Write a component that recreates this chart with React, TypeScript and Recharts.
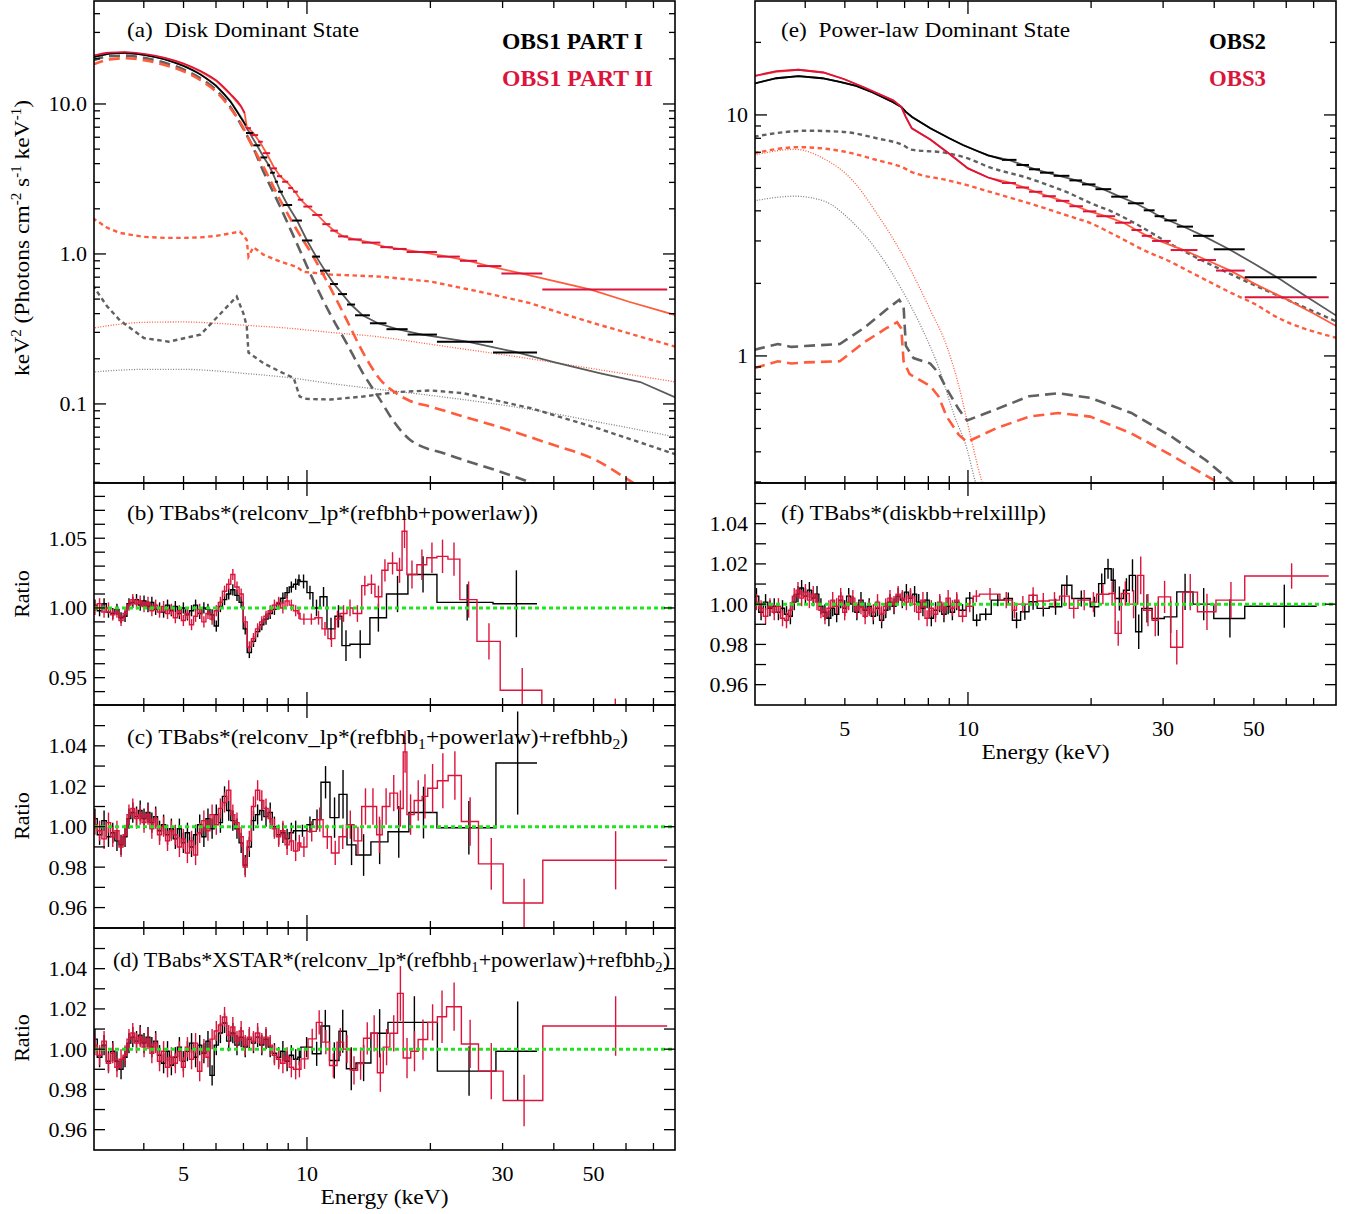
import React from 'react';
import { ComposedChart, Line, Scatter, ErrorBar, XAxis, YAxis, ReferenceLine } from 'recharts';

// ---------------- axis ticks ----------------
const X_TICKS = [4, 5, 6, 7, 8, 9, 10, 20, 30, 40, 50, 60, 70];
const X_LABELS = [5, 10, 30, 50];
const A_Y_TICKS = [0.03, 0.04, 0.05, 0.06, 0.07, 0.08, 0.09, 0.1, 0.2, 0.3, 0.4, 0.5, 0.6, 0.7, 0.8, 0.9, 1, 2, 3, 4, 5, 6, 7, 8, 9, 10, 20, 30, 40];
const A_Y_LABELS = [0.1, 1, 10];
const E_Y_TICKS = [0.3, 0.4, 0.5, 0.6, 0.7, 0.8, 0.9, 1, 2, 3, 4, 5, 6, 7, 8, 9, 10, 20];
const E_Y_LABELS = [1, 10];
const B_Y_TICKS = [0.94, 0.95, 0.96, 0.97, 0.98, 0.99, 1.0, 1.01, 1.02, 1.03, 1.04, 1.05, 1.06, 1.07, 1.08];
const B_Y_LABELS = [0.95, 1.0, 1.05];
const R_Y_TICKS = [0.96, 0.97, 0.98, 0.99, 1.0, 1.01, 1.02, 1.03, 1.04, 1.05];
const R_Y_LABELS = [0.96, 0.98, 1.0, 1.02, 1.04];

// ---------------- panel (a): model components [E keV, keV^2 flux] ----------------
const A_MODEL_I = [[3.0,20.5],[3.3,21.7],[3.6,22.0],[4.0,21.3],[4.5,19.9],[5.0,18.0],[5.5,15.8],[6.0,13.3],[6.5,10.5],[7.0,7.7],[7.1,7.0],[7.25,6.4],[7.55,5.3],[7.85,4.4],[8.07,3.9],[8.24,3.48],[8.42,3.03],[8.62,2.6],[8.97,2.12],[9.46,1.67],[10.0,1.23],[10.53,0.96],[11.07,0.774],[11.64,0.63],[12.2,0.54],[12.8,0.46],[13.66,0.39],[14.9,0.345],[16.6,0.315],[19.1,0.29],[24.6,0.26],[32.2,0.222],[40,0.19],[52,0.16],[65,0.14],[79.5,0.11]];
const A_MODEL_II = [[3.0,20.8],[3.3,21.8],[3.6,22.0],[4.0,21.4],[4.5,20.2],[5.0,18.5],[5.5,16.5],[6.0,14.3],[6.5,11.6],[6.9,9.6],[7.05,8.6],[7.13,7.05],[7.4,6.4],[7.7,5.5],[8.0,4.6],[8.3,3.8],[8.6,3.3],[9.0,2.95],[9.4,2.55],[9.65,2.3],[10.05,2.07],[10.6,1.82],[11.15,1.58],[11.65,1.43],[12.25,1.31],[13.1,1.25],[14.3,1.19],[15.6,1.11],[16.8,1.08],[19.0,1.03],[22.0,0.96],[24.8,0.9],[27.8,0.83],[33.5,0.74],[49,0.58],[61,0.48],[79.5,0.39]];
const A_DISK_I = [[3.0,19.5],[3.3,20.8],[3.6,21.0],[4.0,20.3],[4.5,18.8],[5.0,17.0],[5.5,14.8],[6.0,12.4],[6.5,9.6],[7.0,6.8],[7.3,5.5],[7.83,3.55],[8.6,2.07],[9.44,1.18],[10.36,0.67],[11.38,0.40],[12.5,0.253],[13.7,0.16],[15.1,0.106],[16.2,0.078],[17.8,0.058],[22,0.046],[29,0.036],[35,0.030],[40,0.026]];
const A_DISK_II = [[3.0,18.3],[3.3,19.8],[3.6,20.2],[4.0,19.6],[4.5,18.2],[5.0,16.5],[5.5,14.4],[6.0,12.1],[6.5,9.4],[7.0,6.9],[7.13,6.2],[7.83,3.82],[8.6,2.29],[9.44,1.45],[10.36,0.96],[11.38,0.6],[12.5,0.363],[13.7,0.22],[15.1,0.145],[16.5,0.118],[17.8,0.105],[20,0.096],[25,0.08],[29,0.071],[38.5,0.055],[50.8,0.042],[61,0.031],[66,0.027]];
const A_REFL_I = [[3.0,0.62],[3.25,0.45],[3.5,0.36],[4.0,0.275],[4.6,0.26],[5.5,0.29],[6.1,0.39],[6.74,0.52],[7.0,0.4],[7.13,0.33],[7.2,0.22],[7.83,0.187],[8.6,0.164],[9.28,0.149],[9.6,0.112],[9.98,0.108],[11.38,0.107],[13.7,0.112],[16.5,0.12],[20,0.123],[24,0.118],[35,0.094],[51,0.069],[79.5,0.046]];
const A_REFL_II = [[3.0,1.74],[3.25,1.5],[3.5,1.38],[4.0,1.3],[4.5,1.28],[5.0,1.28],[5.5,1.29],[6.0,1.32],[6.5,1.37],[6.86,1.41],[7.0,1.33],[7.13,1.24],[7.2,0.96],[7.4,1.11],[7.83,0.99],[8.6,0.89],[9.44,0.82],[9.8,0.76],[11.38,0.73],[15.1,0.706],[20,0.655],[26.4,0.56],[35,0.47],[42,0.40],[51,0.34],[79.5,0.24]];
const A_PL_I = [[3.0,0.163],[3.5,0.168],[4.0,0.17],[5.0,0.17],[6.0,0.166],[7.0,0.16],[9.0,0.15],[11.4,0.137],[15,0.125],[20,0.114],[35,0.092],[51,0.076],[79.5,0.06]];
const A_PL_II = [[3.0,0.32],[3.5,0.34],[4.0,0.35],[5.0,0.352],[6.0,0.345],[7.0,0.335],[9.0,0.32],[11.4,0.30],[15,0.28],[20,0.25],[35,0.2],[51,0.17],[79.5,0.14]];
// panel (a) data: dense low-energy part and binned crosses
const A_DATA_I_DENSE = [[3.0,20.4],[3.3,21.6],[3.6,21.9],[4.0,21.2],[4.5,19.8],[5.0,17.9],[5.5,15.7],[6.0,13.2],[6.5,10.4],[7.0,7.6],[7.1,7.2]];
const A_DATA_I_EDGES = [7.1, 7.4, 7.7, 8.0, 8.13, 8.35, 8.5, 8.74, 9.2, 9.72, 10.3, 10.76, 11.38, 11.9, 12.52, 13.1, 14.24, 15.63, 17.6, 20.75, 28.43, 36.4];
const A_DATA_I_VALS = [6.4, 5.3, 4.4, 3.9, 3.48, 3.03, 2.6, 2.12, 1.67, 1.23, 0.96, 0.774, 0.63, 0.54, 0.46, 0.39, 0.345, 0.315, 0.29, 0.26, 0.22];
const A_DATA_II_DENSE = [[3.0,21.0],[3.3,22.0],[3.6,22.2],[4.0,21.6],[4.5,20.3],[5.0,18.6],[5.5,16.6],[6.0,14.4],[6.5,11.7],[6.9,9.7],[7.05,8.7]];
const A_DATA_II_EDGES = [7.1, 7.3, 7.6, 7.8, 8.13, 8.45, 8.7, 9.0, 9.25, 9.5, 9.8, 10.3, 10.9, 11.4, 11.9, 12.6, 13.6, 15.1, 16.2, 17.5, 20.75, 23.6, 26.0, 29.8, 37.5, 75.6];
const A_DATA_II_VALS = [6.9, 6.2, 5.6, 4.7, 3.72, 3.3, 3.03, 2.75, 2.6, 2.3, 2.07, 1.82, 1.58, 1.43, 1.31, 1.25, 1.19, 1.11, 1.08, 1.03, 0.96, 0.9, 0.83, 0.74, 0.58];

// ---------------- panel (e) ----------------
const E_MODEL_2 = [[3.0,13.5],[3.4,14.2],[3.85,14.5],[4.4,14.2],[4.86,13.7],[5.33,13.2],[5.85,12.4],[6.56,11.3],[6.87,10.8],[7.05,10.3],[7.3,9.8],[8.09,8.8],[9.0,8.0],[9.72,7.5],[10.5,7.1],[11.2,6.8],[12.6,6.5],[13.6,6.2],[14.6,5.95],[15.6,5.76],[17.0,5.55],[18.4,5.35],[19.7,5.15],[21.4,4.92],[23.5,4.58],[25.7,4.3],[27.7,4.02],[29.4,3.8],[31.3,3.62],[33.9,3.42],[37.6,3.15],[43.5,2.77],[50,2.42],[58,2.08],[66,1.8],[79.5,1.47]];
const E_MODEL_3 = [[3.0,14.5],[3.4,15.1],[3.85,15.4],[4.43,15.0],[4.97,14.1],[5.58,13.0],[6.56,11.5],[6.87,10.8],[7.05,9.8],[7.29,8.8],[8.09,7.9],[9.0,6.9],[10.0,6.0],[11.2,5.5],[12.6,5.25],[13.6,5.03],[14.6,4.8],[15.7,4.6],[17.0,4.4],[18.4,4.18],[19.8,3.98],[21.7,3.8],[24.0,3.57],[25.8,3.33],[27.4,3.15],[29.7,2.98],[33.7,2.75],[38.3,2.5],[43.8,2.26],[50,2.0],[60,1.72],[70,1.5],[79.5,1.33]];
const E_PL_2 = [[3.0,8.13],[4.04,8.6],[4.97,8.5],[5.98,8.0],[7.03,7.4],[7.2,7.2],[8.87,6.95],[10,6.6],[11.2,6.1],[14.1,5.45],[17.7,4.73],[20,4.3],[22.4,3.98],[28.2,3.23],[30,3.03],[35.5,2.6],[44.8,2.15],[50,1.97],[56.4,1.8],[79.5,1.39]];
const E_PL_3 = [[3.0,6.93],[3.85,7.35],[4.97,7.05],[5.98,6.5],[7.0,6.0],[7.2,5.85],[8.87,5.37],[10,5.1],[11.2,4.82],[14.1,4.3],[17.7,3.8],[20,3.55],[22.4,3.23],[28.2,2.65],[30,2.54],[35.5,2.2],[44.8,1.8],[50,1.65],[56.4,1.46],[79.5,1.19]];
const E_DISK_2 = [[3.0,4.4],[3.77,4.6],[4.43,4.4],[5.21,3.6],[5.98,2.75],[6.87,1.9],[7.72,1.3],[8.47,0.9],[9.28,0.56],[9.95,0.41],[10.4,0.305],[10.8,0.25]];
const E_DISK_3 = [[3.0,6.8],[3.77,7.2],[4.43,6.6],[5.21,5.37],[5.98,3.91],[7.03,2.5],[8.09,1.55],[8.87,1.1],[9.5,0.75],[10.19,0.45],[10.79,0.305],[11.2,0.25]];
const E_REFL_2 = [[3.0,1.06],[3.43,1.12],[3.7,1.09],[4.0,1.1],[4.86,1.12],[5.58,1.31],[6.3,1.55],[6.79,1.71],[6.96,1.6],[7.05,1.1],[7.36,0.98],[8.09,0.93],[8.47,0.85],[8.87,0.73],[9.5,0.6],[9.95,0.54],[11.7,0.6],[14.1,0.68],[16.6,0.7],[19.9,0.67],[25.1,0.58],[31.6,0.46],[38.1,0.37],[43.7,0.305],[47,0.27]];
const E_REFL_3 = [[3.0,0.89],[3.43,0.95],[3.7,0.93],[4.0,0.94],[4.86,0.95],[5.58,1.14],[6.3,1.3],[6.71,1.38],[6.87,1.3],[6.96,0.95],[7.2,0.84],[8.09,0.75],[8.47,0.68],[8.87,0.56],[9.5,0.47],[9.95,0.44],[11.7,0.5],[14.1,0.56],[16.6,0.58],[19.9,0.56],[25.1,0.477],[31.6,0.385],[39.9,0.305],[43,0.28]];
const E_DATA_2_DENSE = [[3.0,13.5],[3.4,14.2],[3.85,14.5],[4.4,14.2],[4.86,13.7],[5.33,13.2],[5.85,12.4],[6.56,11.3],[6.87,10.8],[7.05,10.3],[7.3,9.8],[8.09,8.8],[9.0,8.0],[9.72,7.5],[10.5,7.1],[11.2,6.8],[12.1,6.55]];
const E_DATA_2_EDGES = [12.1, 13.14, 14.1, 15.0, 16.2, 17.7, 19.0, 20.5, 22.4, 24.6, 26.9, 28.6, 30.2, 32.4, 35.5, 39.9, 47.5, 71.2];
const E_DATA_2_VALS = [6.51, 6.2, 5.95, 5.76, 5.59, 5.35, 5.15, 4.92, 4.58, 4.3, 4.02, 3.8, 3.65, 3.44, 3.15, 2.77, 2.12];
const E_DATA_3_DENSE = [[3.0,14.5],[3.4,15.2],[3.85,15.4],[4.43,15.0],[4.97,14.1],[5.58,13.0],[6.56,11.5],[6.87,10.8],[7.05,9.8],[7.29,8.8],[8.09,7.9],[9.0,6.9],[10.0,6.0],[11.2,5.5],[12.1,5.28]];
const E_DATA_3_EDGES = [12.1, 13.1, 14.1, 15.2, 16.4, 17.7, 19.1, 20.6, 22.9, 25.1, 26.6, 28.2, 31.3, 36.4, 40.4, 47.5, 76.2];
const E_DATA_3_VALS = [5.22, 5.0, 4.8, 4.6, 4.4, 4.18, 3.98, 3.8, 3.57, 3.33, 3.15, 3.0, 2.75, 2.5, 2.26, 1.75];

// ---------------- residual ratio panels ----------------
const LOW_EDGES = [3.00,3.08,3.16,3.24,3.32,3.40,3.48,3.56,3.64,3.72,3.80,3.88,3.96,4.05,4.14,4.23,4.32,4.42,4.52,4.62,4.72,4.83,4.94,5.05,5.17,5.29,5.41,5.54,5.67,5.80,5.94,6.08,6.22,6.37,6.52,6.67,6.83,6.99,7.15,7.32,7.49,7.67,7.85,8.04,8.23,8.43,8.63,8.84,9.05,9.27,9.50];

const B_BLACK_LOW = [1.002,0.998,1.003,0.997,0.996,0.999,0.993,0.994,1.003,1.004,1.006,1.002,1.005,1.001,1.004,0.999,1.000,0.997,1.002,0.998,1.001,0.996,1.000,0.995,0.998,1.002,0.996,1.000,0.999,0.995,0.987,1.001,1.006,1.010,1.013,1.009,1.004,0.985,0.968,0.976,0.983,0.988,0.992,0.996,0.999,1.003,1.007,1.011,1.015,1.017];
const B_BLACK_HI_EDGES = [9.5, 9.62, 10.0, 10.34, 10.76, 11.19, 11.7, 12.17, 12.73, 14.24, 15.63, 17.63, 20.75, 28.43, 36.4];
const B_BLACK_HI = [1.02, 1.019, 1.011, 1.0, 1.008, 0.985, 0.994, 0.973, 0.974, 0.993, 1.01, 1.024, 1.004, 1.003];
const B_BLACK_HI_ERR = [0.004, 0.005, 0.005, 0.006, 0.007, 0.008, 0.008, 0.011, 0.010, 0.010, 0.013, 0.013, 0.013, 0.024];
const B_RED_LOW = [0.999,1.003,0.997,1.000,0.995,0.997,0.991,0.996,1.002,1.006,1.003,1.005,1.001,1.004,0.998,1.002,0.997,1.001,0.996,0.999,0.993,0.998,0.991,0.996,0.988,0.994,0.999,0.990,0.996,0.992,0.998,1.004,1.012,1.017,1.024,1.015,1.010,0.990,0.972,0.978,0.985,0.990,0.994,0.998,1.002,1.004,1.000,1.005,1.002,0.998];
const B_RED_HI_EDGES = [9.5, 9.62, 10.04, 10.46, 10.88, 11.25, 11.7, 12.04, 12.52, 12.95, 13.6, 14.08, 14.65, 15.23, 15.76, 16.58, 17.06, 17.53, 18.54, 19.6, 20.75, 22.07, 23.6, 25.98, 29.6, 37.4, 75.6];
const B_RED_HI = [0.996, 0.992, 0.992, 0.993, 0.985, 0.978, 0.992, 0.996, 1.0, 0.996, 1.016, 1.017, 1.008, 1.027, 1.032, 1.027, 1.055, 1.024, 1.031, 1.036, 1.037, 1.035, 1.006, 0.976, 0.941, 0.91];
const B_RED_HI_ERR = [0.004, 0.004, 0.004, 0.005, 0.005, 0.006, 0.006, 0.006, 0.006, 0.006, 0.007, 0.007, 0.008, 0.008, 0.008, 0.009, 0.012, 0.01, 0.011, 0.011, 0.012, 0.012, 0.013, 0.013, 0.016, 0.025];

const C_BLACK_LOW = [1.004,0.996,1.003,0.995,0.997,0.993,0.991,0.995,1.004,1.007,1.005,1.008,1.004,1.007,1.002,1.005,0.998,1.001,0.996,0.999,0.994,0.999,0.992,0.997,0.990,0.996,1.001,0.995,1.004,0.999,1.006,1.002,1.015,1.008,1.003,0.999,0.992,0.981,0.990,1.003,1.006,1.008,1.005,1.007,1.000,0.996,0.997,0.994,0.997,0.998];
const C_BLACK_HI_EDGES = [9.5, 10.0, 10.34, 10.82, 11.38, 11.97, 12.52, 13.17, 14.32, 15.76, 17.73, 20.75, 28.9, 36.4];
const C_BLACK_HI = [0.998, 1.001, 1.0035, 1.022, 1.0045, 1.016, 0.991, 0.986, 0.9925, 0.9975, 1.007, 0.9995, 1.0315];
const C_BLACK_HI_ERR = [0.003, 0.004, 0.005, 0.008, 0.01, 0.012, 0.01, 0.0103, 0.011, 0.0128, 0.0128, 0.0132, 0.0255];
const C_RED_LOW = [1.001,0.998,0.994,1.002,0.995,0.998,0.990,0.996,1.006,1.009,1.004,1.006,1.002,1.006,0.999,1.004,0.996,1.000,0.993,0.998,0.996,0.990,0.994,0.987,0.993,0.986,0.997,1.003,0.998,1.006,1.001,1.009,1.012,1.018,1.006,1.002,0.995,0.980,0.993,1.010,1.018,1.013,1.009,1.004,0.999,0.995,0.998,0.991,0.993,0.988];
const C_RED_HI_EDGES = [9.5, 9.66, 10.0, 10.54, 10.95, 11.47, 11.97, 12.48, 13.03, 13.6, 14.18, 14.79, 15.26, 15.93, 16.63, 17.17, 17.53, 18.26, 19.1, 19.7, 20.8, 22.1, 23.8, 26.2, 30.1, 37.6, 75.6];
const C_RED_HI = [0.992, 0.99, 0.9977, 1.0035, 0.995, 0.987, 0.995, 1.001, 0.993, 1.010, 1.010, 0.996, 1.010, 1.0166, 1.009, 1.037, 1.006, 1.013, 1.015, 1.019, 1.0227, 1.0253, 1.0026, 0.9816, 0.9623, 0.9834];
const C_RED_HI_ERR = [0.004, 0.005, 0.005, 0.006, 0.006, 0.006, 0.006, 0.007, 0.007, 0.009, 0.009, 0.009, 0.009, 0.009, 0.009, 0.0103, 0.01, 0.01, 0.011, 0.012, 0.0136, 0.012, 0.012, 0.0128, 0.012, 0.0144];

const D_BLACK_LOW = [1.005,0.996,1.002,0.994,0.999,0.994,0.990,0.996,1.003,1.006,1.004,1.007,1.003,1.006,1.001,1.004,0.997,0.993,0.999,0.992,0.996,1.001,0.994,0.999,1.003,0.996,1.002,0.998,1.004,0.987,1.002,1.008,1.013,1.004,1.008,1.002,1.006,1.001,1.005,1.003,1.006,1.002,1.005,1.001,0.998,0.996,0.999,0.994,0.997,0.995];
const D_BLACK_HI_EDGES = [9.5, 9.66, 10.3, 10.82, 11.35, 11.97, 12.48, 13.17, 14.32, 15.76, 20.8, 28.9, 36.4];
const D_BLACK_HI = [0.996, 1.001, 0.9977, 1.0115, 0.9944, 1.0089, 0.9903, 0.9931, 1.0079, 1.0133, 0.9891, 0.999];
const D_BLACK_HI_ERR = [0.004, 0.005, 0.006, 0.008, 0.009, 0.0107, 0.0107, 0.009, 0.012, 0.013, 0.0123, 0.0247];
const D_RED_LOW = [1.002,0.997,1.004,0.993,0.998,0.991,0.995,0.997,1.005,1.008,1.003,1.006,1.001,1.005,0.998,1.003,0.994,0.999,0.991,0.996,0.993,0.999,0.991,1.001,0.995,1.003,0.989,1.000,0.996,1.005,1.009,1.012,1.016,1.007,1.011,1.004,1.009,1.002,1.006,1.004,1.008,1.003,1.006,1.002,0.997,0.995,0.993,0.996,0.991,0.990];
const D_RED_HI_EDGES = [9.5, 9.67, 10.06, 10.54, 10.88, 11.35, 11.84, 12.28, 12.76, 13.29, 13.74, 14.32, 14.85, 15.35, 15.93, 16.63, 17.17, 17.91, 18.67, 19.7, 20.8, 21.9, 23.8, 26.2, 30.1, 37.6, 75.6];
const D_RED_HI = [0.99, 0.9952, 1.0051, 1.0133, 1.0035, 0.9919, 1.0035, 1.0, 0.9895, 0.9928, 1.0054, 1.0079, 0.9883, 1.001, 1.0079, 1.0277, 0.9956, 0.999, 1.0048, 1.0133, 1.0161, 1.0211, 1.0026, 0.9891, 0.9745, 1.0115];
const D_RED_HI_ERR = [0.004, 0.005, 0.005, 0.006, 0.006, 0.006, 0.007, 0.007, 0.007, 0.008, 0.008, 0.009, 0.0095, 0.009, 0.009, 0.0136, 0.01, 0.01, 0.01, 0.009, 0.013, 0.012, 0.012, 0.014, 0.0128, 0.0148];

const F_BLACK_LOW = [1.004,0.996,1.001,0.998,0.999,0.996,0.998,0.995,0.994,1.001,1.005,1.008,1.004,1.007,1.003,1.005,0.999,0.996,0.993,0.998,0.995,1.002,0.998,1.004,1.000,0.996,1.002,0.997,0.999,0.994,0.998,0.992,0.997,1.001,0.999,1.004,1.002,1.006,1.003,1.005,1.001,0.998,1.002,0.993,0.997,1.000,0.995,0.999,0.996,1.001];
const F_BLACK_HI_EDGES = [9.5, 9.9, 10.3, 10.7, 11.4, 12.26, 12.84, 13.45, 14.1, 14.76, 15.8, 16.95, 17.95, 19.9, 20.87, 21.6, 22.4, 22.9, 24.0, 24.8, 25.7, 26.6, 28.2, 30.2, 32.4, 35.5, 39.9, 47.5, 71.2];
const F_BLACK_HI = [0.997, 1.003, 0.992, 0.995, 1.002, 1.0028, 0.992, 0.9962, 1.0012, 0.9979, 0.9987, 1.0094, 1.0028, 0.9987, 1.0102, 1.0176, 1.0119, 1.0028, 1.0069, 1.0143, 0.9863, 0.9979, 0.9929, 0.9937, 1.0061, 1.0, 0.9929, 0.999];
const F_BLACK_HI_ERR = [0.003, 0.003, 0.003, 0.003, 0.003, 0.003, 0.004, 0.004, 0.004, 0.004, 0.004, 0.005, 0.004, 0.005, 0.005, 0.005, 0.006, 0.006, 0.006, 0.008, 0.0086, 0.007, 0.0086, 0.008, 0.009, 0.008, 0.0095, 0.0107];
const F_RED_LOW = [1.001,0.998,0.994,0.999,0.996,0.999,0.993,0.992,0.997,1.004,1.007,1.003,1.006,1.002,1.005,1.001,0.997,0.994,0.998,1.002,0.999,1.004,0.996,1.001,1.003,0.997,0.999,0.994,0.998,0.996,1.001,0.995,0.999,1.003,1.000,1.005,1.003,1.001,1.004,1.000,0.996,1.002,0.993,0.998,0.995,1.001,0.997,1.003,0.998,1.002];
const F_RED_HI_EDGES = [9.5, 9.9, 10.3, 10.67, 11.97, 12.84, 13.14, 14.1, 14.76, 15.8, 16.75, 17.7, 18.58, 19.9, 20.63, 22.12, 22.9, 23.7, 24.8, 26.0, 26.9, 28.2, 29.2, 31.3, 33.5, 36.4, 40.4, 47.5, 76.2];
const F_RED_HI = [0.994, 0.999, 1.004, 1.005, 1.002, 0.997, 1.0, 1.0044, 1.0016, 1.002, 1.004, 0.9979, 1.002, 1.001, 1.0049, 1.0053, 0.9855, 1.0053, 1.0, 1.0143, 0.997, 0.992, 1.0036, 0.9786, 1.006, 0.9962, 1.002, 1.014];
const F_RED_HI_ERR = [0.003, 0.003, 0.003, 0.003, 0.004, 0.004, 0.004, 0.004, 0.004, 0.004, 0.005, 0.005, 0.005, 0.005, 0.005, 0.006, 0.0062, 0.006, 0.007, 0.0094, 0.008, 0.008, 0.008, 0.0086, 0.009, 0.009, 0.009, 0.0063];
const LOW_ERR_B = 0.004;
const LOW_ERR_CD = 0.005;
const LOW_ERR_F = 0.004;

// ---------------- styling ----------------
const SERIF = '"Liberation Serif", "Times New Roman", Times, serif';
const BLACK = '#000000';
const CRIMSON = '#dc143c';
const TOMATO = '#ff5b3d';
const GRAY = '#606060';
const DGRAY = '#5a5a5a';
const LGRAY = '#808080';
const GREEN = '#22e322';

const LP = 100, TP = 6, RP = 6, BP = 64;
const FRAMES = {
  a: { left: 94, top: 1, w: 581, h: 482 },
  b: { left: 94, top: 483, w: 581, h: 222 },
  c: { left: 94, top: 705, w: 581, h: 223 },
  d: { left: 94, top: 928, w: 581, h: 222 },
  e: { left: 755, top: 1, w: 581, h: 482 },
  f: { left: 755, top: 483, w: 581, h: 222 },
};
const XDOM_L = [3.024, 79.0];
const XDOM_R = [3.015, 79.4];
const YDOM_A = [0.0297, 48.6];
const YDOM_E = [0.297, 29.7];
const YDOM_B = [0.9304, 1.0896];
const YDOM_R = [0.9499, 1.0602];

// ---------------- helpers ----------------
const toPts = (arr: number[][]) => arr.map((p) => ({ x: p[0], y: p[1] }));
function crosses(edges: number[], vals: number[]) {
  return vals.map((v, i) => {
    const c = (edges[i] + edges[i + 1]) / 2;
    return { x: c, y: v, xerr: [c - edges[i], edges[i + 1] - c] };
  });
}
// step histogram + error bars; error bars are trimmed to the visible ratio window
function residual(lowVals: number[], lowErr: number, hiEdges: number[], hiVals: number[], hiErrs: number[], dom: number[]) {
  const edges = LOW_EDGES.slice(0, -1).concat(hiEdges);
  const vals = lowVals.concat(hiVals);
  const errs = lowVals.map(() => lowErr).concat(hiErrs);
  const step = edges.map((e, i) => ({ x: e, y: vals[Math.min(i, vals.length - 1)] }));
  const pts = vals.map((v, i) => {
    const lo = Math.min(errs[i], v - dom[0]);
    const hi = Math.min(errs[i], dom[1] - v);
    return { x: (edges[i] + edges[i + 1]) / 2, y: v, err: [lo, hi] };
  });
  return { step, pts };
}
const Empty = () => <g />;

function curve(key: string, arr: number[][], color: string, width: number, dash?: string, type: any = 'monotone') {
  return (
    <Line key={key} data={toPts(arr)} dataKey="y" type={type} stroke={color} strokeWidth={width}
      strokeDasharray={dash} dot={false} activeDot={false} isAnimationActive={false} />
  );
}
function crossElems(key: string, edges: number[], vals: number[], color: string) {
  return (
    <Scatter key={key} data={crosses(edges, vals)} dataKey="y" shape={Empty} isAnimationActive={false}>
      <ErrorBar dataKey="xerr" direction="x" width={0} stroke={color} strokeWidth={2} isAnimationActive={false} />
    </Scatter>
  );
}
function residualElems(key: string, r: any, color: string) {
  return [
    <Line key={key + 's'} data={r.step} dataKey="y" type="stepAfter" stroke={color} strokeWidth={1.4}
      dot={false} activeDot={false} isAnimationActive={false} />,
    <Scatter key={key + 'e'} data={r.pts} dataKey="y" shape={Empty} isAnimationActive={false}>
      <ErrorBar dataKey="err" direction="y" width={0} stroke={color} strokeWidth={1.4} isAnimationActive={false} />
    </Scatter>,
  ];
}

type PanelProps = {
  frame: { left: number; top: number; w: number; h: number };
  xDomain: number[];
  yDomain: number[];
  yLog: boolean;
  yTicks: number[];
  yLabels: number[];
  yFmt: (v: number) => string;
  xLabels: boolean;
  children?: any;
};

function Panel(p: PanelProps) {
  const { frame } = p;
  const W = LP + frame.w + RP;
  const H = TP + frame.h + BP;
  const xTick = (props: any) => {
    const { x, y, payload } = props;
    const v = payload.value as number;
    const len = v === 10 ? 13 : 7;
    const lab = p.xLabels && X_LABELS.indexOf(v) >= 0;
    return (
      <g>
        <line x1={x} y1={y} x2={x} y2={y - len} stroke="#000" strokeWidth={1.3} />
        <line x1={x} y1={y - frame.h} x2={x} y2={y - frame.h + len} stroke="#000" strokeWidth={1.3} />
        {lab ? (
          <text x={x} y={y + 31} textAnchor="middle" fontFamily={SERIF} fontSize={22} fill="#000">{v}</text>
        ) : null}
      </g>
    );
  };
  const yTick = (props: any) => {
    const { x, y, payload } = props;
    const v = payload.value as number;
    const isLab = p.yLabels.some((l) => Math.abs(l - v) < 1e-6);
    const len = p.yLog ? (isLab ? 12 : 6) : 11;
    return (
      <g>
        <line x1={x} y1={y} x2={x + len} y2={y} stroke="#000" strokeWidth={1.3} />
        <line x1={x + frame.w} y1={y} x2={x + frame.w - len} y2={y} stroke="#000" strokeWidth={1.3} />
        {isLab ? (
          <text x={x - 7} y={y + 7.5} textAnchor="end" fontFamily={SERIF} fontSize={22} fill="#000">{p.yFmt(v)}</text>
        ) : null}
      </g>
    );
  };
  return (
    <div style={{ position: 'absolute', left: frame.left - LP, top: frame.top - TP }}>
      <ComposedChart width={W} height={H} margin={{ top: TP, right: RP, bottom: 0, left: 0 }}>
        <XAxis type="number" dataKey="x" scale="log" domain={p.xDomain} allowDataOverflow ticks={X_TICKS}
          interval={0} tickSize={0} tickMargin={0} axisLine={false} tickLine={false} height={BP} tick={xTick} />
        <YAxis type="number" scale={p.yLog ? 'log' : 'linear'} domain={p.yDomain} allowDataOverflow ticks={p.yTicks}
          interval={0} tickSize={0} tickMargin={0} axisLine={false} tickLine={false} width={LP} tick={yTick} />
        {p.children}
      </ComposedChart>
    </div>
  );
}

const fmt1 = (v: number) => v.toFixed(1);
const fmt0 = (v: number) => String(v);
const fmt2 = (v: number) => v.toFixed(2);

function RatioPanel(props: { frame: any; xDomain: number[]; yDomain: number[]; ticks: number[]; labels: number[]; xLabels: boolean; black: any; red: any }) {
  return (
    <Panel frame={props.frame} xDomain={props.xDomain} yDomain={props.yDomain} yLog={false} yTicks={props.ticks}
      yLabels={props.labels} yFmt={fmt2} xLabels={props.xLabels}>
      {residualElems('k', props.black, BLACK)}
      {residualElems('r', props.red, CRIMSON)}
      <ReferenceLine y={1} stroke={GREEN} strokeWidth={3} strokeDasharray="4 3" />
    </Panel>
  );
}

function Overlay() {
  const t = { fontFamily: SERIF, fill: '#000' };
  return (
    <svg width={1347} height={1214} style={{ position: 'absolute', left: 0, top: 0, pointerEvents: 'none' }}>
      {Object.values(FRAMES).map((f, i) => (
        <rect key={i} x={f.left} y={f.top} width={f.w} height={f.h} fill="none" stroke="#000" strokeWidth={1.6} />
      ))}
      <text x={127} y={37} fontSize={21} textLength={232} lengthAdjust="spacingAndGlyphs" xmlSpace="preserve" {...t}>(a)  Disk Dominant State</text>
      <text x={502} y={49} fontSize={23} fontWeight="bold" textLength={141} lengthAdjust="spacingAndGlyphs" {...t}>OBS1 PART I</text>
      <text x={502} y={86} fontSize={23} fontWeight="bold" textLength={151} lengthAdjust="spacingAndGlyphs" fontFamily={SERIF} fill={CRIMSON}>OBS1 PART II</text>
      <text x={781} y={37} fontSize={21} textLength={289} lengthAdjust="spacingAndGlyphs" xmlSpace="preserve" {...t}>(e)  Power-law Dominant State</text>
      <text x={1209} y={49} fontSize={23} fontWeight="bold" textLength={57} lengthAdjust="spacingAndGlyphs" {...t}>OBS2</text>
      <text x={1209} y={86} fontSize={23} fontWeight="bold" textLength={57} lengthAdjust="spacingAndGlyphs" fontFamily={SERIF} fill={CRIMSON}>OBS3</text>
      <text x={127} y={520} fontSize={21} textLength={411} lengthAdjust="spacingAndGlyphs" {...t}>(b) TBabs*(relconv_lp*(refbhb+powerlaw))</text>
      <text x={127} y={744} fontSize={21} textLength={501} lengthAdjust="spacingAndGlyphs" {...t}>
        (c) TBabs*(relconv_lp*(refbhb<tspan fontSize={14} dy={5}>1</tspan><tspan dy={-5}>+powerlaw)+refbhb</tspan><tspan fontSize={14} dy={5}>2</tspan><tspan dy={-5}>)</tspan>
      </text>
      <text x={113} y={967} fontSize={21} textLength={557} lengthAdjust="spacingAndGlyphs" {...t}>
        (d) TBabs*XSTAR*(relconv_lp*(refbhb<tspan fontSize={14} dy={5}>1</tspan><tspan dy={-5}>+powerlaw)+refbhb</tspan><tspan fontSize={14} dy={5}>2</tspan><tspan dy={-5}>)</tspan>
      </text>
      <text x={781} y={520} fontSize={21} textLength={265} lengthAdjust="spacingAndGlyphs" {...t}>(f) TBabs*(diskbb+relxilllp)</text>
      <text transform="translate(29,238) rotate(-90)" textAnchor="middle" fontSize={22} textLength={276} lengthAdjust="spacingAndGlyphs" {...t}>
        keV<tspan fontSize={14} dy={-8}>2</tspan><tspan dy={8}> (Photons cm</tspan><tspan fontSize={14} dy={-8}>-2</tspan><tspan dy={8}> s</tspan><tspan fontSize={14} dy={-8}>-1</tspan><tspan dy={8}> keV</tspan><tspan fontSize={14} dy={-8}>-1</tspan><tspan dy={8}>)</tspan>
      </text>
      <text transform="translate(29,594) rotate(-90)" textAnchor="middle" fontSize={22} {...t}>Ratio</text>
      <text transform="translate(29,816) rotate(-90)" textAnchor="middle" fontSize={22} {...t}>Ratio</text>
      <text transform="translate(29,1038) rotate(-90)" textAnchor="middle" fontSize={22} {...t}>Ratio</text>
      <text x={384.5} y={1204} textAnchor="middle" fontSize={22} textLength={128} lengthAdjust="spacingAndGlyphs" {...t}>Energy (keV)</text>
      <text x={1045.5} y={759} textAnchor="middle" fontSize={22} textLength={128} lengthAdjust="spacingAndGlyphs" {...t}>Energy (keV)</text>
    </svg>
  );
}

const RES_B = { k: residual(B_BLACK_LOW, LOW_ERR_B, B_BLACK_HI_EDGES, B_BLACK_HI, B_BLACK_HI_ERR, YDOM_B), r: residual(B_RED_LOW, LOW_ERR_B, B_RED_HI_EDGES, B_RED_HI, B_RED_HI_ERR, YDOM_B) };
const RES_C = { k: residual(C_BLACK_LOW, LOW_ERR_CD, C_BLACK_HI_EDGES, C_BLACK_HI, C_BLACK_HI_ERR, YDOM_R), r: residual(C_RED_LOW, LOW_ERR_CD, C_RED_HI_EDGES, C_RED_HI, C_RED_HI_ERR, YDOM_R) };
const RES_D = { k: residual(D_BLACK_LOW, LOW_ERR_CD, D_BLACK_HI_EDGES, D_BLACK_HI, D_BLACK_HI_ERR, YDOM_R), r: residual(D_RED_LOW, LOW_ERR_CD, D_RED_HI_EDGES, D_RED_HI, D_RED_HI_ERR, YDOM_R) };
const RES_F = { k: residual(F_BLACK_LOW, LOW_ERR_F, F_BLACK_HI_EDGES, F_BLACK_HI, F_BLACK_HI_ERR, YDOM_R), r: residual(F_RED_LOW, LOW_ERR_F, F_RED_HI_EDGES, F_RED_HI, F_RED_HI_ERR, YDOM_R) };

export default function App() {
  return (
    <div style={{ position: 'absolute', left: 0, top: 0, width: 1347, height: 1214, background: '#fff' }}>
      <Panel frame={FRAMES.a} xDomain={XDOM_L} yDomain={YDOM_A} yLog yTicks={A_Y_TICKS} yLabels={A_Y_LABELS} yFmt={fmt1} xLabels={false}>
        {curve('plI', A_PL_I, LGRAY, 1.3, '1 1.6')}
        {curve('plII', A_PL_II, TOMATO, 1.3, '1 1.6')}
        {curve('rfI', A_REFL_I, GRAY, 2.4, '4.5 3.5', 'linear')}
        {curve('rfII', A_REFL_II, TOMATO, 2.4, '4.5 3.5', 'linear')}
        {curve('dkI', A_DISK_I, GRAY, 2.6, '11 6')}
        {curve('dkII', A_DISK_II, TOMATO, 2.6, '11 6')}
        {curve('mI', A_MODEL_I, DGRAY, 1.8, undefined, 'linear')}
        {curve('mII', A_MODEL_II, TOMATO, 1.8, undefined, 'linear')}
        {curve('dI', A_DATA_I_DENSE, BLACK, 1.6)}
        {crossElems('xI', A_DATA_I_EDGES, A_DATA_I_VALS, BLACK)}
        {curve('dII', A_DATA_II_DENSE, CRIMSON, 1.6)}
        {crossElems('xII', A_DATA_II_EDGES, A_DATA_II_VALS, CRIMSON)}
      </Panel>
      <RatioPanel frame={FRAMES.b} xDomain={XDOM_L} yDomain={YDOM_B} ticks={B_Y_TICKS} labels={B_Y_LABELS} xLabels={false} black={RES_B.k} red={RES_B.r} />
      <RatioPanel frame={FRAMES.c} xDomain={XDOM_L} yDomain={YDOM_R} ticks={R_Y_TICKS} labels={R_Y_LABELS} xLabels={false} black={RES_C.k} red={RES_C.r} />
      <RatioPanel frame={FRAMES.d} xDomain={XDOM_L} yDomain={YDOM_R} ticks={R_Y_TICKS} labels={R_Y_LABELS} xLabels={true} black={RES_D.k} red={RES_D.r} />
      <Panel frame={FRAMES.e} xDomain={XDOM_R} yDomain={YDOM_E} yLog yTicks={E_Y_TICKS} yLabels={E_Y_LABELS} yFmt={fmt0} xLabels={false}>
        {curve('d2', E_DISK_2, LGRAY, 1.3, '1 1.6')}
        {curve('d3', E_DISK_3, TOMATO, 1.3, '1 1.6')}
        {curve('r2', E_REFL_2, GRAY, 2.6, '11 6', 'linear')}
        {curve('r3', E_REFL_3, TOMATO, 2.6, '11 6', 'linear')}
        {curve('p2', E_PL_2, GRAY, 2.4, '4.5 3.5')}
        {curve('p3', E_PL_3, TOMATO, 2.4, '4.5 3.5')}
        {curve('m2', E_MODEL_2, DGRAY, 1.8, undefined, 'linear')}
        {curve('m3', E_MODEL_3, TOMATO, 1.8, undefined, 'linear')}
        {curve('dd2', E_DATA_2_DENSE, BLACK, 1.8, undefined, 'linear')}
        {crossElems('x2', E_DATA_2_EDGES, E_DATA_2_VALS, BLACK)}
        {curve('dd3', E_DATA_3_DENSE, CRIMSON, 1.8, undefined, 'linear')}
        {crossElems('x3', E_DATA_3_EDGES, E_DATA_3_VALS, CRIMSON)}
      </Panel>
      <RatioPanel frame={FRAMES.f} xDomain={XDOM_R} yDomain={YDOM_R} ticks={R_Y_TICKS} labels={R_Y_LABELS} xLabels={true} black={RES_F.k} red={RES_F.r} />
      <Overlay />
    </div>
  );
}
